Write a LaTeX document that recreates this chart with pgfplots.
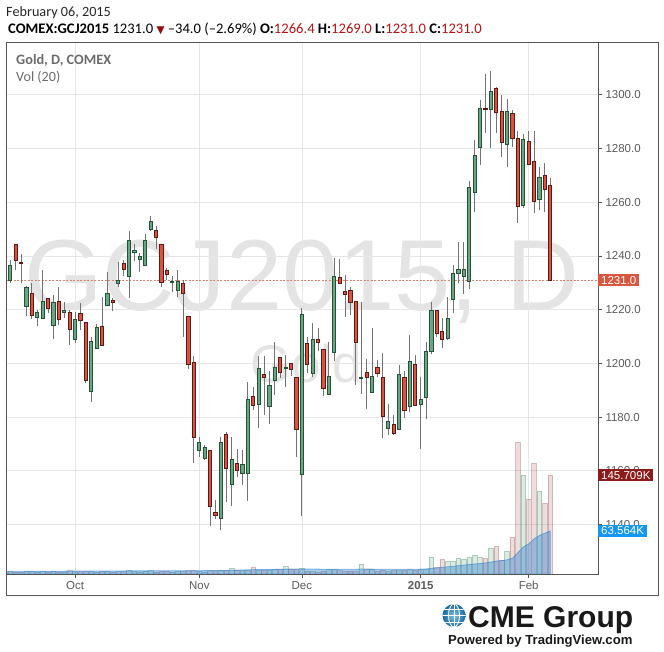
\documentclass[border=0pt]{standalone}
\usepackage{fontspec}
\setmainfont{Carlito}
\newfontfamily\arial{Liberation Sans}
\newfontfamily\dejavu{DejaVu Sans}
\usepackage{pgfplots}
\usepackage{pgfplotstable}
\pgfplotsset{compat=1.18}

\definecolor{upfill}{HTML}{6BA583}
\definecolor{updark}{HTML}{225437}
\definecolor{dnfill}{HTML}{D75442}
\definecolor{dndark}{HTML}{5B1A13}
\definecolor{wick}{HTML}{737375}
\definecolor{gridc}{HTML}{E6E6E6}
\definecolor{axisc}{HTML}{555555}
\definecolor{labc}{HTML}{5A5A5A}
\definecolor{wmark}{HTML}{E4E4E4}
\definecolor{volup}{HTML}{6BA583}
\definecolor{voldn}{HTML}{8C3C3C}
\definecolor{maline}{HTML}{3282D2}
\definecolor{lastc}{HTML}{D9573F}
\definecolor{volc}{HTML}{8B1C1C}
\definecolor{mac}{HTML}{1496F5}
\definecolor{valred}{HTML}{B41414}
\definecolor{hdrgray}{HTML}{6B6B6B}
\definecolor{globe}{HTML}{1E8CD7}

\pgfplotsset{
  candleup/.style={draw=updark, fill=upfill, line width=1pt, line join=miter},
  candledn/.style={draw=dndark, fill=dnfill, line width=1pt, line join=miter},
  candlewick/.style={draw=wick, line width=1pt},
}

% n = trading day, o h l c = price, v = volume (K), m = volume MA 20 (K)
\pgfplotstableread{
n o h l c v m
0 1235.4 1236.5 1231.5 1232.5 3.0 4.0
1 1230.8 1238.5 1230.1 1236.6 3.4 4.0
2 1244.3 1244.3 1234.8 1238.4 3.1 4.0
3 1237.7 1240.7 1230.1 1237.3 2.6 4.0
4 1221.2 1228.8 1217.8 1228.3 3.5 4.1
5 1226.1 1229.8 1216.4 1217.9 3.9 4.1
6 1217.1 1219.9 1214.0 1219.0 2.8 4.1
7 1216.8 1234.8 1216.8 1223.1 3.6 4.1
8 1224.2 1224.2 1218.6 1220.5 3.0 4.2
9 1214.2 1225.3 1209.2 1222.7 3.8 4.2
10 1223.1 1228.4 1214.4 1216.4 3.1 4.2
11 1219.0 1222.9 1217.0 1219.8 2.7 4.2
12 1219.0 1219.8 1207.0 1212.7 4.6 4.3
13 1209.0 1219.0 1207.7 1216.4 3.9 4.3
14 1218.6 1222.5 1212.6 1216.0 3.2 4.3
15 1215.3 1215.3 1192.6 1193.7 4.1 4.3
16 1189.6 1209.7 1185.7 1208.2 3.8 4.4
17 1205.6 1214.5 1205.6 1213.4 2.9 4.4
18 1213.8 1224.8 1206.7 1206.7 4.5 4.4
19 1221.6 1234.0 1221.6 1226.1 3.4 4.4
20 1223.5 1224.2 1219.4 1222.7 3.0 4.5
21 1229.8 1237.8 1228.3 1230.9 3.9 4.5
22 1237.3 1238.5 1232.5 1235.0 3.2 4.5
23 1232.4 1249.3 1224.2 1245.8 4.6 4.6
24 1241.4 1244.5 1238.0 1242.1 3.3 4.6
25 1238.8 1241.1 1234.2 1239.9 2.8 4.6
26 1236.5 1248.2 1236.5 1245.8 3.7 4.6
27 1249.9 1254.9 1249.4 1252.9 4.6 4.7
28 1249.6 1251.0 1242.7 1246.9 3.0 4.7
29 1244.3 1244.3 1228.3 1230.2 3.8 4.7
30 1234.7 1235.4 1231.1 1233.2 4.5 4.7
31 1230.3 1232.4 1226.7 1230.6 3.1 4.8
32 1227.2 1234.8 1224.6 1230.6 3.6 4.8
33 1229.8 1231.1 1209.9 1226.1 3.4 4.8
34 1217.5 1217.5 1197.8 1199.6 4.6 4.9
35 1200.4 1202.7 1163.0 1172.4 4.8 4.9
36 1167.6 1172.6 1165.2 1170.6 3.4 4.9
37 1164.6 1169.5 1164.0 1168.7 3.0 5.0
38 1167.6 1167.6 1139.5 1146.7 4.7 5.0
39 1144.5 1149.1 1142.1 1143.2 3.3 5.0
40 1142.3 1172.6 1137.9 1170.6 5.9 5.1
41 1173.5 1174.3 1148.5 1160.9 4.6 5.3
42 1154.9 1172.4 1147.0 1164.2 8.4 5.6
43 1162.7 1168.1 1157.8 1160.0 5.9 5.8
44 1159.0 1167.7 1154.6 1162.4 4.8 6.0
45 1159.0 1193.2 1148.8 1186.6 5.9 6.1
46 1187.7 1191.1 1182.7 1184.3 9.8 6.4
47 1184.7 1202.7 1176.0 1198.1 5.0 6.5
48 1195.9 1202.7 1180.7 1194.6 5.2 6.6
49 1184.0 1197.0 1177.5 1191.8 5.9 6.7
50 1193.6 1207.9 1188.3 1198.5 7.4 6.8
51 1202.2 1202.2 1194.4 1196.6 7.4 6.9
52 1198.0 1203.0 1191.3 1198.3 11.3 7.2
53 1200.0 1200.0 1195.3 1197.8 7.4 7.3
54 1194.8 1194.8 1165.2 1175.4 6.4 7.3
55 1158.7 1220.5 1143.3 1218.2 8.4 7.5
56 1207.4 1210.0 1196.3 1199.6 4.4 7.4
57 1196.3 1214.9 1194.8 1208.9 3.4 7.3
58 1208.9 1213.0 1204.5 1207.8 2.5 7.2
59 1205.2 1205.2 1187.7 1190.7 4.4 7.1
60 1188.4 1207.9 1188.1 1195.1 6.2 7.1
61 1204.1 1239.1 1201.0 1232.4 6.2 7.1
62 1232.0 1238.7 1229.8 1229.8 4.8 7.0
63 1226.8 1233.1 1217.4 1225.7 3.4 7.0
64 1227.2 1228.3 1217.9 1222.7 4.4 7.0
65 1223.1 1223.1 1192.0 1207.8 3.4 7.0
66 1194.2 1222.7 1188.7 1194.6 14.3 7.4
67 1196.6 1201.8 1182.9 1194.8 7.4 7.3
68 1189.2 1213.0 1189.2 1195.1 6.4 7.2
69 1198.5 1201.3 1194.8 1196.3 3.4 7.0
70 1194.8 1203.7 1172.1 1180.3 5.9 6.9
71 1175.8 1184.8 1173.2 1178.4 3.4 6.9
72 1177.3 1180.7 1173.2 1173.9 4.8 6.9
73 1175.4 1199.3 1175.4 1195.9 4.8 6.9
74 1194.8 1197.0 1179.5 1182.5 5.9 6.9
75 1184.0 1210.5 1181.8 1200.8 7.4 6.9
76 1199.7 1203.0 1184.0 1184.4 5.9 6.9
77 1184.8 1194.8 1168.2 1186.6 6.9 7.2
78 1187.4 1207.8 1179.2 1204.5 6.9 7.5
79 1204.5 1222.7 1203.4 1219.8 24.6 8.4
80 1219.8 1219.8 1209.7 1211.2 9.4 9.0
81 1211.9 1216.8 1205.6 1209.0 21.7 9.8
82 1209.3 1224.6 1208.6 1216.8 18.7 10.6
83 1223.9 1236.5 1218.6 1233.5 18.7 11.4
84 1233.5 1245.1 1229.8 1235.0 23.1 12.3
85 1232.4 1245.1 1225.7 1235.0 21.7 13.2
86 1230.6 1267.8 1227.6 1265.6 24.6 14.0
87 1263.7 1283.1 1256.3 1277.5 27.6 14.8
88 1280.5 1298.0 1273.8 1295.0 24.6 15.5
89 1294.8 1307.7 1285.7 1294.4 23.1 16.2
90 1294.6 1308.8 1280.1 1301.3 37.9 17.6
91 1302.4 1302.8 1285.7 1293.5 40.9 19.2
92 1293.9 1299.8 1276.7 1282.3 20.2 19.8
93 1281.6 1298.3 1273.0 1293.9 33.5 20.9
94 1293.1 1294.3 1280.5 1283.8 54.1 23.1
95 1283.8 1286.4 1252.2 1258.5 194.4 31.6
96 1258.9 1285.3 1257.8 1283.5 145.7 40.0
97 1282.7 1286.4 1274.1 1274.1 110.3 44.3
98 1275.3 1286.4 1255.9 1260.4 163.4 51.8
99 1261.1 1273.0 1257.0 1269.3 122.1 57.0
100 1270.0 1274.5 1256.3 1264.8 104.3 60.3
101 1266.4 1269.0 1231.0 1231.0 145.709 63.564
}\ohlc

\pgfplotstablegetrowsof{\ohlc}
\pgfmathtruncatemacro\lastrow{\pgfplotsretval-1}

\begin{document}
\begin{tikzpicture}
\useasboundingbox (0,0) rectangle (664pt,-652pt);

% big watermark behind everything
\node[anchor=base, text=wmark, inner sep=0, font=\arial\fontsize{101}{101}\selectfont] at (302pt,-311pt) {GCJ2015, D};
\node[anchor=base, text=wmark, inner sep=0, font=\arial\fontsize{53}{53}\selectfont] at (306pt,-382pt) {Gold};

% price pane
\begin{axis}[
  at={(6.5pt,-43pt)}, anchor=north west,
  scale only axis, width=591.5pt, height=531pt,
  xmin=0.296, xmax=109.83, ymin=1121.56, ymax=1319.33,
  clip mode=individual,
  axis line style={draw=axisc, line width=1pt},
  xtick={13,36,55,77,97},
  xticklabels={Oct,Nov,Dec,\textbf{2015},Feb},
  ytick={1140,1160,...,1300},
  xtick pos=left, ytick pos=right, yticklabel pos=right,
  tick align=outside, major tick length=4pt,
  tick style={draw=axisc, line width=0.8pt},
  grid=major, major grid style={draw=gridc, line width=0.8pt},
  ticklabel style={text=labc, font=\arial\fontsize{11.5}{12}\selectfont},
  yticklabel style={/pgf/number format/.cd, fixed, fixed zerofill, precision=1, 1000 sep={}, assume math mode=true},
]
\addplot[lastc!75, line width=0.6pt, dash pattern=on 2pt off 1.5pt] coordinates {(0.296,1231.0) (109.83,1231.0)};

% one wick and one body per trading day, read from the table
\pgfplotsforeachungrouped \i in {0,...,\lastrow}{%
  \pgfplotstablegetelem{\i}{n}\of\ohlc \let\cn\pgfplotsretval
  \pgfplotstablegetelem{\i}{o}\of\ohlc \let\co\pgfplotsretval
  \pgfplotstablegetelem{\i}{h}\of\ohlc \let\ch\pgfplotsretval
  \pgfplotstablegetelem{\i}{l}\of\ohlc \let\cl\pgfplotsretval
  \pgfplotstablegetelem{\i}{c}\of\ohlc \let\cc\pgfplotsretval
  \pgfmathsetmacro\lo{min(\co,\cc)}%
  \pgfmathsetmacro\hi{max(\co,\cc)}%
  \pgfmathsetmacro\xl{\cn-0.31}%
  \pgfmathsetmacro\xr{\cn+0.31}%
  \pgfmathtruncatemacro\isdown{\cc<\co}%
  \ifnum\isdown=1 \def\cstyle{candledn}\else\def\cstyle{candleup}\fi
  \edef\temp{%
    \noexpand\addplot[candlewick] coordinates {(\cn,\cl) (\cn,\ch)};
    \noexpand\addplot[\cstyle] coordinates {(\xl,\lo) (\xr,\lo) (\xr,\hi) (\xl,\hi)} -- cycle;
  }%
  \temp
}

\node[anchor=west, fill=lastc, text=white, inner xsep=3pt, inner ysep=2pt, font=\arial\fontsize{11.5}{12}\selectfont] at (axis cs:109.83,1231.0) {1231.0};
\end{axis}

% volume pane, same x, own scale
\begin{axis}[
  at={(6.5pt,-43pt)}, anchor=north west,
  scale only axis, width=591.5pt, height=531pt,
  xmin=0.296, xmax=109.83, ymin=0, ymax=784.3,
  axis lines=none, clip mode=individual,
]
\addplot[ybar, bar width=0.88, bar shift=0pt, draw=volup, draw opacity=0.5, fill=volup, fill opacity=0.22, line width=0.8pt]
  table[x=n, y expr={\thisrow{c}<\thisrow{o} ? nan : \thisrow{v}}] {\ohlc};
\addplot[ybar, bar width=0.88, bar shift=0pt, draw=voldn, draw opacity=0.3, fill=voldn, fill opacity=0.17, line width=0.8pt]
  table[x=n, y expr={\thisrow{c}<\thisrow{o} ? \thisrow{v} : nan}] {\ohlc};
\addplot[draw=maline, draw opacity=0.6, fill=maline, fill opacity=0.42, line width=0.8pt]
  table[x=n, y=m] {\ohlc} \closedcycle;

\node[anchor=west, fill=volc, text=white, inner xsep=3pt, inner ysep=2pt, font=\arial\fontsize{11.5}{12}\selectfont] at (axis cs:109.83,145.709) {145.709K};
\node[anchor=west, fill=mac, text=white, inner xsep=3pt, inner ysep=2pt, font=\arial\fontsize{11.5}{12}\selectfont] at (axis cs:109.83,63.564) {63.564K};
\end{axis}

% outer frame
\draw[axisc, line width=1pt] (6.5pt,-43pt) rectangle (658pt,-595pt);

% header
\node[anchor=base west, inner sep=0, text=black!85] at (6pt,-16.7pt) {\fontsize{14.2}{15}\selectfont February 06, 2015};
\node[anchor=base west, inner sep=0, text=black] at (8pt,-33.3pt) {\fontsize{14.6}{15}\selectfont
  \textbf{COMEX:GCJ2015} 1231.0 {\color{valred!80!black}\dejavu\fontsize{10.5}{10}\selectfont ▼}~–34.0 (–2.69\%)
  \textbf{O:}{\color{valred}1266.4} \textbf{H:}{\color{valred}1269.0} \textbf{L:}{\color{valred}1231.0} \textbf{C:}{\color{valred}1231.0}};
\node[anchor=base west, inner sep=0, text=hdrgray] at (16pt,-64.3pt) {\fontsize{14.3}{15}\selectfont\bfseries Gold, D, COMEX};
\node[anchor=base west, inner sep=0, text=hdrgray] at (16pt,-81.7pt) {\fontsize{14.1}{15}\selectfont Vol (20)};

% CME logo
\begin{scope}
\clip (454pt,-615.5pt) circle (11.5pt);
\shade[inner color=globe!55!white, outer color=globe!75!black] (454pt,-615.5pt) circle (11.5pt);
\draw[white, line width=0.9pt] (454pt,-603pt) -- (454pt,-628pt);
\draw[white, line width=0.9pt] (454pt,-615.5pt) ellipse (5.5pt and 11.5pt);
\draw[white, line width=0.9pt] (442pt,-615.5pt) -- (466pt,-615.5pt);
\draw[white, line width=0.9pt] (442pt,-609pt) -- (466pt,-609pt);
\draw[white, line width=0.9pt] (442pt,-622pt) -- (466pt,-622pt);
\end{scope}
\node[anchor=base west, inner sep=0, text=black!90] at (468pt,-627pt) {\arial\bfseries\fontsize{30}{30}\selectfont CME Group};
\node[anchor=base west, inner sep=0, text=black!90] at (448pt,-644.5pt) {\arial\bfseries\fontsize{13.1}{13}\selectfont Powered by TradingView.com};
\end{tikzpicture}
\end{document}
